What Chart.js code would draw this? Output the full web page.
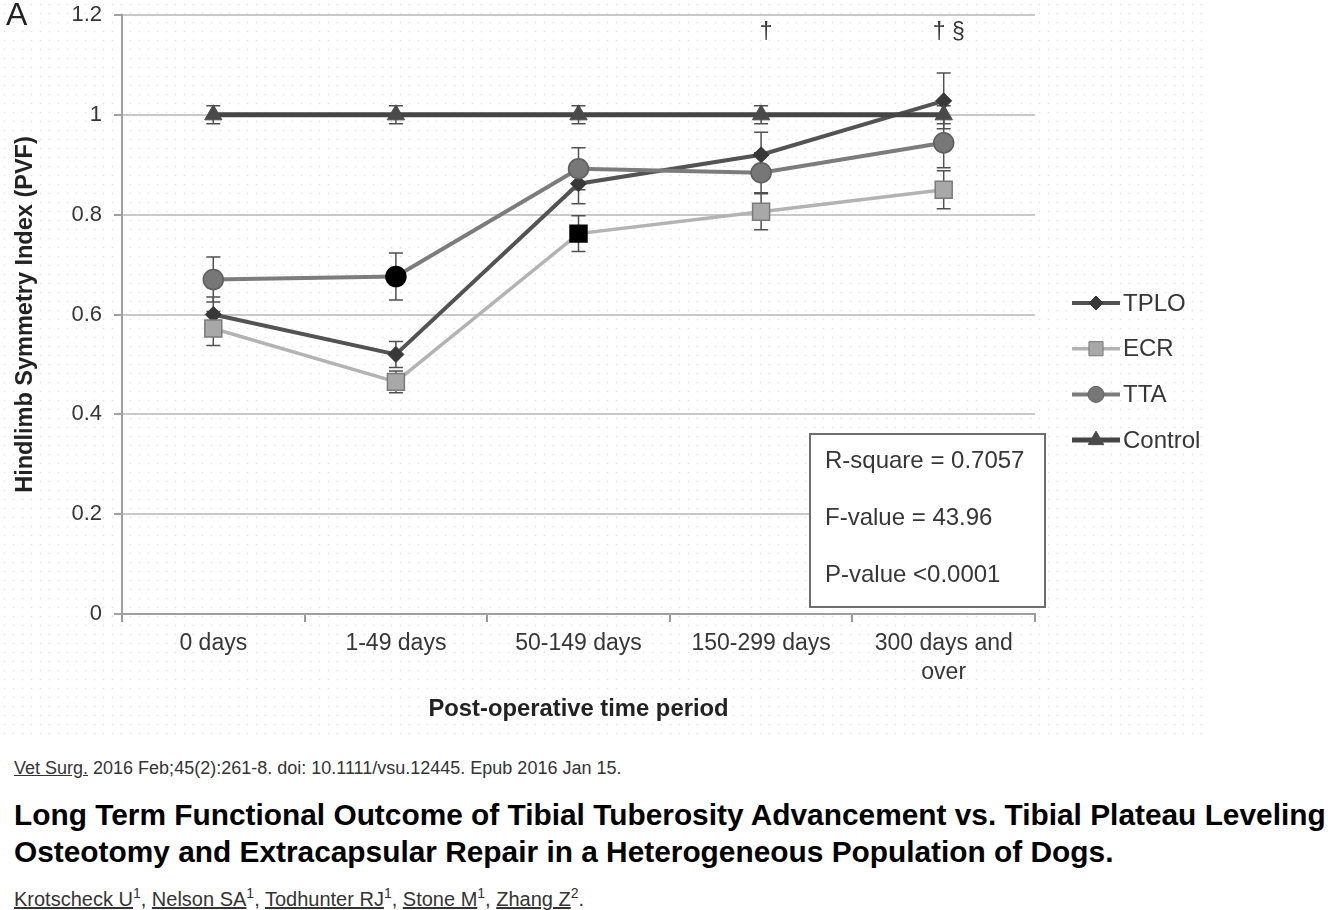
<!DOCTYPE html>
<html>
<head>
<meta charset="utf-8">
<script src="https://cdn.jsdelivr.net/npm/chart.js@4.4.1/dist/chart.umd.min.js"></script>
<style>
  body { margin: 0; background: #fff; font-family: "Liberation Sans", Arial, sans-serif; }
  #dots { position: absolute; left: 0; top: 0; width: 1210px; height: 740px;
    background-image: radial-gradient(#e3e3e3 0.7px, transparent 1.1px); background-size: 9px 9px; }
  #chart { position: absolute; left: 0; top: 0; }
  .cite { position: absolute; left: 14px; top: 758px; font-size: 18px; color: #333; white-space: nowrap; }
  .title { position: absolute; left: 14px; top: 796px; font-size: 29.85px; font-weight: bold; line-height: 37px; color: #000; white-space: nowrap; }
  .auth { position: absolute; left: 14px; top: 885px; font-size: 20px; color: #333; white-space: nowrap; }
  u { color: #333; }
  sup { font-size: 14px; }
</style>
</head>
<body>
<div id="dots"></div>
<canvas id="chart" width="1328" height="740"></canvas>
<div class="cite"><u>Vet Surg.</u> 2016 Feb;45(2):261-8. doi: 10.1111/vsu.12445. Epub 2016 Jan 15.</div>
<div class="title">Long Term Functional Outcome of Tibial Tuberosity Advancement vs. Tibial Plateau Leveling<br>Osteotomy and Extracapsular Repair in a Heterogeneous Population of Dogs.</div>
<div class="auth"><u>Krotscheck U</u><sup>1</sup>, <u>Nelson SA</u><sup>1</sup>, <u>Todhunter RJ</u><sup>1</sup>, <u>Stone M</u><sup>1</sup>, <u>Zhang Z</u><sup>2</sup>.</div>
<script>
const periods = ["0 days", "1-49 days", "50-149 days", "150-299 days", ["300 days and", "over"]];

const tplo = [0.60, 0.52, 0.862, 0.92, 1.028];
const tploErr = [0.035, 0.026, 0.04, 0.045, 0.056];
const ecr = [0.572, 0.465, 0.762, 0.806, 0.85];
const ecrErr = [0.034, 0.022, 0.036, 0.036, 0.038];
const tta = [0.67, 0.676, 0.892, 0.884, 0.944];
const ttaErr = [0.045, 0.047, 0.042, 0.04, 0.05];
const control = [1, 1, 1, 1, 1];
const controlErr = [0.018, 0.018, 0.018, 0.018, 0.018];

const marks = ["", "", "", "\u2020", "\u2020 \u00a7"];
const stats = ["R-square = 0.7057", "F-value = 43.96", "P-value <0.0001"];

const FONT = '"Liberation Sans", Arial, sans-serif';
const TXT = "#363636";

const ctx = document.getElementById("chart").getContext("2d");

const extras = {
  id: "extras",
  beforeDatasetsDraw(chart) {
    const c = chart.ctx, x = chart.scales.x, y = chart.scales.y;
    c.save();
    c.strokeStyle = "#505050";
    c.lineWidth = 1.5;
    chart.data.datasets.forEach(function (ds) {
      ds.data.forEach(function (v, i) {
        const px = x.getPixelForValue(i);
        const t = y.getPixelForValue(v + ds.err[i]);
        const b = y.getPixelForValue(v - ds.err[i]);
        c.beginPath();
        c.moveTo(px, t); c.lineTo(px, b);
        c.moveTo(px - 7, t); c.lineTo(px + 7, t);
        c.moveTo(px - 7, b); c.lineTo(px + 7, b);
        c.stroke();
      });
    });
    c.restore();
  },
  afterDraw(chart) {
    const c = chart.ctx, x = chart.scales.x, area = chart.chartArea;
    c.save();
    // panel letter
    c.fillStyle = "#222";
    c.font = "32px " + FONT;
    c.textBaseline = "middle";
    c.textAlign = "left";
    c.fillText("A", 6, 16);

    // significance marks
    c.font = "23px " + FONT;
    c.fillStyle = TXT;
    c.textAlign = "center";
    marks.forEach(function (m, i) {
      if (m) c.fillText(m, x.getPixelForValue(i) + 5, area.top + 18);
    });

    // stats box
    const bx = area.right - 225, by = area.top + 419, bw = 235, bh = 173;
    c.fillStyle = "#fff";
    c.fillRect(bx, by, bw, bh);
    c.strokeStyle = "#6e6e6e";
    c.lineWidth = 2;
    c.strokeRect(bx, by, bw, bh);
    c.fillStyle = TXT;
    c.font = "24px " + FONT;
    c.textAlign = "left";
    stats.forEach(function (s, i) {
      c.fillText(s, bx + 15, by + 27 + i * 57);
    });

    // legend
    const lx = area.right + 37;
    chart.data.datasets.slice().sort(function (a, b) { return a.legendIdx - b.legendIdx; }).forEach(function (ds, i) {
      const ly = area.top + 288 + i * 45.7;
      c.strokeStyle = ds.borderColor;
      c.lineWidth = ds.borderWidth;
      c.beginPath();
      c.moveTo(lx, ly); c.lineTo(lx + 48, ly);
      c.stroke();
      c.fillStyle = ds.legendFill;
      c.strokeStyle = ds.legendBorder;
      c.lineWidth = 1;
      Chart.helpers.drawPoint(c, { pointStyle: ds.pointStyle, radius: ds.legendRadius, rotation: 0, borderWidth: 1 }, lx + 24, ly);
      c.fillStyle = TXT;
      c.font = "24px " + FONT;
      c.textAlign = "left";
      c.fillText(ds.label, lx + 51, ly + 1);
    });
    c.restore();
  }
};

new Chart(ctx, {
  type: "line",
  data: {
    labels: periods,
    datasets: [
      {
        label: "TPLO", data: tplo, err: tploErr, legendIdx: 0, order: 3,
        borderColor: "#535353", borderWidth: 4,
        pointStyle: "rectRot", pointRadius: 8,
        pointBackgroundColor: "#383838", pointBorderColor: "#383838", pointBorderWidth: 1,
        legendFill: "#383838", legendBorder: "#383838", legendRadius: 7
      },
      {
        label: "ECR", data: ecr, err: ecrErr, legendIdx: 1, order: 2,
        borderColor: "#b3b3b3", borderWidth: 3.5,
        pointStyle: "rect", pointRadius: 12,
        pointBackgroundColor: ["#a8a8a8", "#a8a8a8", "#000000", "#a8a8a8", "#a8a8a8"],
        pointBorderColor: ["#7a7a7a", "#7a7a7a", "#000000", "#7a7a7a", "#7a7a7a"], pointBorderWidth: 1.5,
        legendFill: "#a8a8a8", legendBorder: "#7a7a7a", legendRadius: 10
      },
      {
        label: "TTA", data: tta, err: ttaErr, legendIdx: 2, order: 1,
        borderColor: "#7c7c7c", borderWidth: 4,
        pointStyle: "circle", pointRadius: 10,
        pointBackgroundColor: ["#777777", "#000000", "#777777", "#777777", "#777777"],
        pointBorderColor: ["#5e5e5e", "#000000", "#5e5e5e", "#5e5e5e", "#5e5e5e"], pointBorderWidth: 1.5,
        legendFill: "#777777", legendBorder: "#5e5e5e", legendRadius: 8
      },
      {
        label: "Control", data: control, err: controlErr, legendIdx: 3, order: 0,
        borderColor: "#454545", borderWidth: 5,
        pointStyle: "triangle", pointRadius: 10,
        pointBackgroundColor: "#4a4a4a", pointBorderColor: "#4a4a4a", pointBorderWidth: 1,
        legendFill: "#4a4a4a", legendBorder: "#4a4a4a", legendRadius: 9
      }
    ]
  },
  options: {
    responsive: false,
    devicePixelRatio: 1,
    animation: false,
    layout: { padding: { left: 0, top: 15, right: 293, bottom: 0 } },
    plugins: { legend: { display: false }, tooltip: { enabled: false } },
    elements: { line: { tension: 0 } },
    scales: {
      x: {
        offset: true,
        afterFit: function (s) { s.height = 126; },
        grid: { offset: true, drawOnChartArea: false, drawTicks: true, tickLength: 8, color: "#9a9a9a", lineWidth: 2 },
        border: { display: true, color: "#a0a0a0", width: 2 },
        ticks: { color: TXT, font: { family: FONT, size: 23, lineHeight: 1.26 }, padding: 7, maxRotation: 0 },
        title: {
          display: true, text: "Post-operative time period", color: "#222",
          font: { family: FONT, size: 23.8, weight: "bold" }, padding: { top: 0, bottom: 16 }
        }
      },
      y: {
        min: 0, max: 1.2,
        afterFit: function (s) { s.width = 122; s.paddingTop = 0; s.paddingBottom = 0; },
        grid: { color: "#c9c9c9", lineWidth: 2, tickLength: 8, tickColor: "#a0a0a0" },
        border: { display: true, color: "#a0a0a0", width: 2 },
        ticks: {
          stepSize: 0.2, color: TXT, padding: 12,
          font: { family: FONT, size: 22 },
          callback: function (v) { return String(Math.round(v * 10) / 10); }
        },
        title: {
          display: true, text: "Hindlimb Symmetry Index (PVF)", color: "#222",
          font: { family: FONT, size: 23.5, weight: "bold" }, padding: { top: 11, bottom: 0 }
        }
      }
    }
  },
  plugins: [extras]
});
</script>
</body>
</html>
